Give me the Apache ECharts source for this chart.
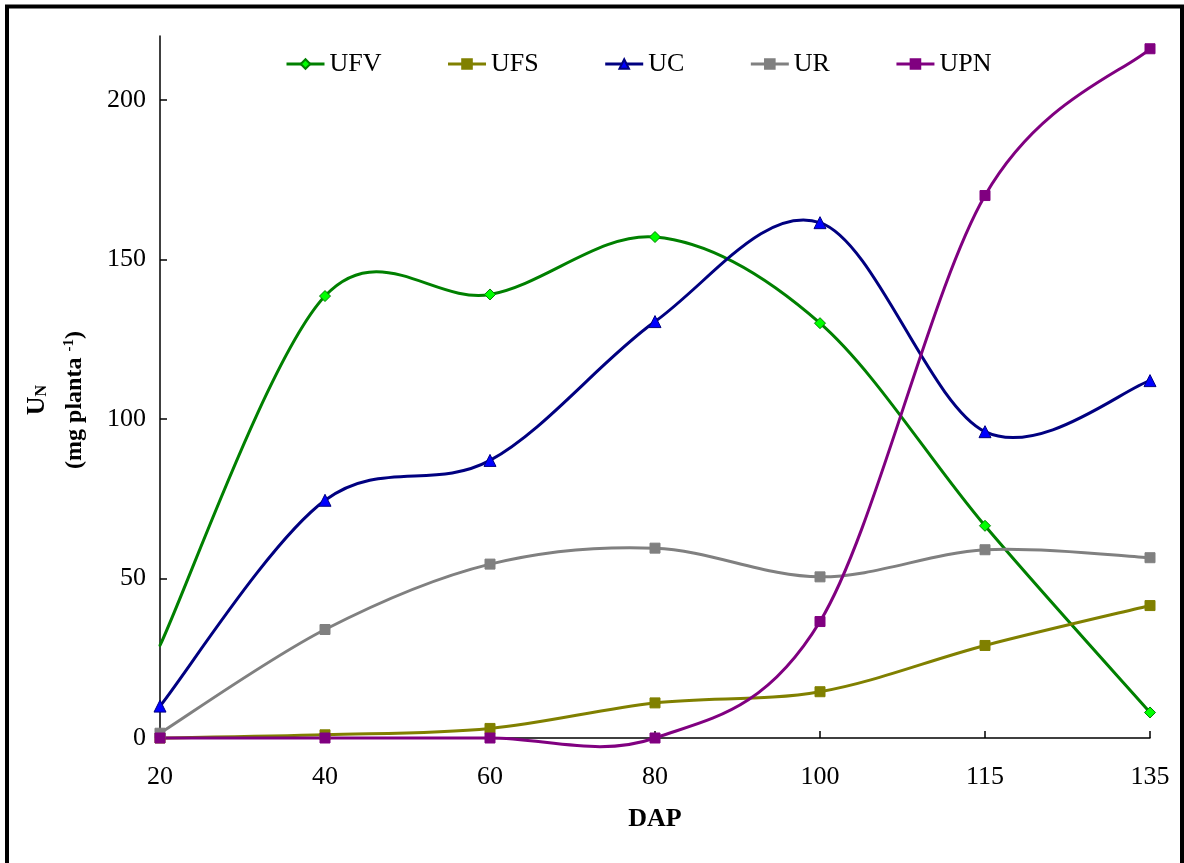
<!DOCTYPE html>
<html>
<head>
<meta charset="utf-8">
<script src="https://cdn.jsdelivr.net/npm/echarts@6/dist/echarts.min.js"></script>
<style>
  html, body { margin: 0; padding: 0; background: #fff; }
  #chart { width: 1184px; height: 863px; }
</style>
</head>
<body>
<div id="chart"></div>
<script>
// Days after planting (DAP)
const categories = ['20', '40', '60', '80', '100', '115', '135'];
// Nitrogen uptake per organ, mg planta^-1
const ufv = [29, 138.5, 139, 157, 130, 66.5, 8];
const ufs = [0, 1, 3, 11, 14.5, 29, 41.5];
const uc  = [10, 74.5, 87, 130.5, 161.5, 96, 112];
const ur  = [1.5, 34, 54.5, 59.5, 50.5, 59, 56.5];
const upn = [0, 0, 0, 0, 36.5, 170, 216];
const yTicks = [0, 50, 100, 150, 200];

const FONT = '"Liberation Serif", "Times New Roman", serif';

// Marker series (also feeds the legend); the visible curve is drawn separately.
function markerSeries(name, values, lineColor, fillColor, symbol, size) {
  return {
    name: name,
    type: 'line',
    data: values,
    symbol: symbol,
    symbolSize: size,
    showAllSymbol: true,
    lineStyle: { color: lineColor, width: 3, opacity: 0 },
    itemStyle: { color: fillColor, borderColor: lineColor, borderWidth: 1 },
    emphasis: { disabled: true },
    z: 3
  };
}

// Cardinal (Catmull-Rom) curve through the data points, positioned by the axes.
function curveSeries(key, values, color) {
  return {
    id: key + '-curve',
    type: 'custom',
    data: values.map((v, i) => [i, v]),
    encode: { x: 0, y: 1 },
    silent: true,
    z: 2,
    renderItem: function (params, api) {
      if (params.dataIndex !== 0) return null;
      const p = values.map((v, i) => api.coord([i, v]));
      const n = p.length;
      const at = (i) => p[Math.max(0, Math.min(n - 1, i))];
      let d = 'M' + p[0][0] + ' ' + p[0][1];
      for (let i = 0; i < n - 1; i++) {
        const a = at(i - 1), b = at(i), c = at(i + 1), e = at(i + 2);
        const c1x = b[0] + (c[0] - a[0]) / 6, c1y = b[1] + (c[1] - a[1]) / 6;
        const c2x = c[0] - (e[0] - b[0]) / 6, c2y = c[1] - (e[1] - b[1]) / 6;
        d += ' C' + c1x + ' ' + c1y + ' ' + c2x + ' ' + c2y + ' ' + c[0] + ' ' + c[1];
      }
      return {
        type: 'path',
        shape: { pathData: d },
        style: { fill: 'none', stroke: color, lineWidth: 3, lineJoin: 'round', lineCap: 'round' }
      };
    }
  };
}

const chart = echarts.init(document.getElementById('chart'), null, { renderer: 'canvas' });
chart.setOption({
  animation: false,
  backgroundColor: '#fff',
  textStyle: { fontFamily: FONT, color: '#000' },
  grid: { left: 160, right: 34, top: 36, bottom: 125, containLabel: false },
  legend: {
    left: 280,
    top: 46,
    itemGap: 65,
    itemWidth: 38,
    itemHeight: 12,
    lineStyle: { opacity: 1, width: 3 },
    textStyle: { fontFamily: FONT, fontSize: 26, color: '#000' },
    data: ['UFV', 'UFS', 'UC', 'UR', 'UPN']
  },
  xAxis: {
    type: 'category',
    data: categories,
    boundaryGap: false,
    name: 'DAP',
    nameLocation: 'middle',
    nameGap: 68,
    nameTextStyle: { fontFamily: FONT, fontSize: 26, fontWeight: 'bold', color: '#000' },
    axisLine: { lineStyle: { color: '#000', width: 1.5 } },
    axisTick: { inside: true, length: 7, alignWithLabel: true, lineStyle: { color: '#000', width: 1.5 } },
    axisLabel: { fontFamily: FONT, fontSize: 26, color: '#000', margin: 26 },
    splitLine: { show: false }
  },
  yAxis: {
    type: 'value',
    min: 0,
    max: 220,
    interval: 50,
    axisLine: { show: true, lineStyle: { color: '#000', width: 1.5 } },
    axisTick: { show: true, inside: true, length: 7, customValues: yTicks, lineStyle: { color: '#000', width: 1.5 } },
    axisLabel: { fontFamily: FONT, fontSize: 26, color: '#000', margin: 14, customValues: yTicks },
    splitLine: { show: false }
  },
  series: [
    curveSeries('ufv', ufv, '#008000'),
    curveSeries('ufs', ufs, '#808000'),
    curveSeries('uc', uc, '#000080'),
    curveSeries('ur', ur, '#808080'),
    curveSeries('upn', upn, '#800080'),
    markerSeries('UFV', ufv.map((v, i) => i === 0 ? { value: v, symbol: 'none' } : v), '#008000', '#00ff00', 'diamond', 11),
    markerSeries('UFS', ufs, '#808000', '#808000', 'rect', 10),
    markerSeries('UC', uc, '#000080', '#0000ff', 'triangle', 12),
    markerSeries('UR', ur, '#808080', '#808080', 'rect', 10),
    markerSeries('UPN', upn, '#800080', '#800080', 'rect', 10)
  ],
  graphic: [
    {
      type: 'text',
      x: 56,
      y: 400,
      rotation: Math.PI / 2,
      style: {
        text: '{u|U}{s|N}\n{m|(mg planta }{p|-1}{m|)}',
        align: 'center',
        verticalAlign: 'middle',
        fontFamily: FONT,
        fontWeight: 'bold',
        fill: '#000',
        rich: {
          u: { fontFamily: FONT, fontWeight: 'bold', fontSize: 26, lineHeight: 38, verticalAlign: 'middle' },
          s: { fontFamily: FONT, fontWeight: 'bold', fontSize: 16, lineHeight: 16, verticalAlign: 'bottom', padding: [0, 0, 6, 0] },
          m: { fontFamily: FONT, fontWeight: 'bold', fontSize: 24, lineHeight: 38, verticalAlign: 'middle' },
          p: { fontFamily: FONT, fontWeight: 'bold', fontSize: 15, lineHeight: 15, verticalAlign: 'top', padding: [6, 0, 0, 0] }
        }
      }
    },
    {
      type: 'rect',
      shape: { x: 7, y: 6.5, width: 1175, height: 900 },
      style: { fill: 'none', stroke: '#000', lineWidth: 4 },
      silent: true
    }
  ]
});
</script>
</body>
</html>
